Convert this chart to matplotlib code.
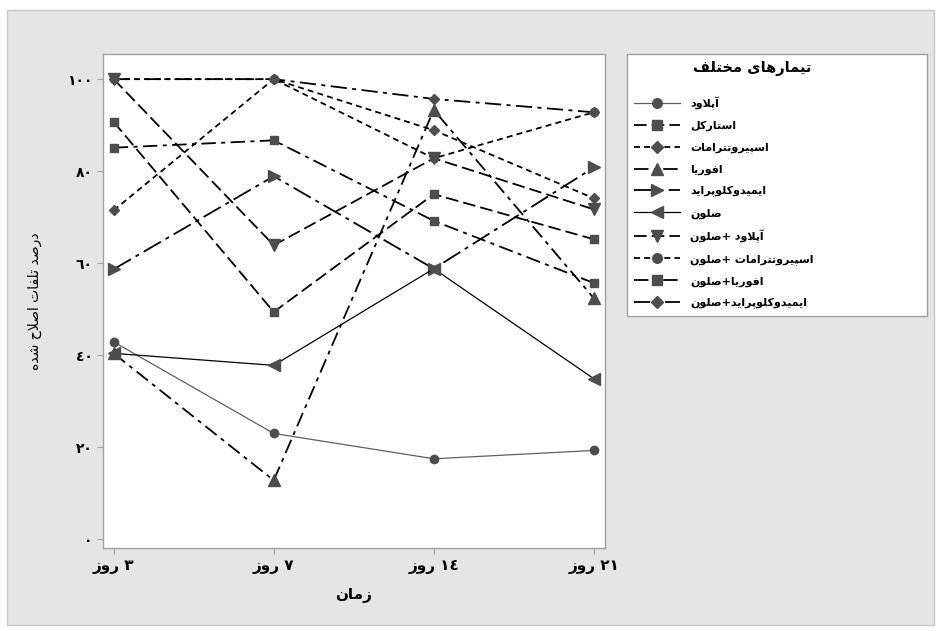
import re
import matplotlib
matplotlib.use("Agg")
import matplotlib.pyplot as plt
from matplotlib.patches import Rectangle

# ---------------- data ----------------
days = ['٣ روز', '٧ روز', '١٤ روز', '٢١ روز']
y_ticks = [0, 20, 40, 60, 80, 100]
y_tick_labels = ['٠', '٢٠', '٤٠', '٦٠', '٨٠', '١٠٠']

aplaud = [42.9, 23.0, 17.5, 19.3]
starkel = [90.7, 49.4, 75.0, 65.2]
spiro = [71.5, 100.0, 88.9, 74.1]
oforia = [40.4, 12.8, 93.3, 52.4]
imida = [58.7, 78.9, 58.8, 80.8]
salon = [40.4, 37.8, 58.8, 34.9]
salon_aplaud = [100.0, 63.9, 82.8, 71.7]
salon_spiro = [100.0, 100.0, 82.8, 92.8]
salon_oforia = [85.1, 86.7, 69.2, 55.7]
salon_imida = [100.0, 100.0, 95.7, 92.8]

names = ['آپلاود', 'استارکل', 'اسپیروتترامات', 'افوریا', 'ایمیدوکلوپراید',
         'صلون', 'صلون+ آپلاود', 'صلون+ اسپیروتترامات', 'صلون+افوریا',
         'صلون+ایمیدوکلوپراید']
series = [aplaud, starkel, spiro, oforia, imida, salon, salon_aplaud,
          salon_spiro, salon_oforia, salon_imida]

legend_title = 'تیمارهای مختلف'
x_label = 'زمان'
y_label = 'درصد تلفات اصلاح شده'

# ---------------- minimal Arabic/Persian shaping ----------------
FORMS = {
    'ا': ('\uFE8D', '\uFE8E'), 'آ': ('\uFE81', '\uFE82'),
    'د': ('\uFEA9', '\uFEAA'), 'ذ': ('\uFEAB', '\uFEAC'),
    'ر': ('\uFEAD', '\uFEAE'), 'ز': ('\uFEAF', '\uFEB0'),
    'ژ': ('\uFB8A', '\uFB8B'), 'و': ('\uFEED', '\uFEEE'),
    'ب': ('\uFE8F', '\uFE90', '\uFE91', '\uFE92'),
    'پ': ('\uFB56', '\uFB57', '\uFB58', '\uFB59'),
    'ت': ('\uFE95', '\uFE96', '\uFE97', '\uFE98'),
    'ح': ('\uFEA1', '\uFEA2', '\uFEA3', '\uFEA4'),
    'خ': ('\uFEA5', '\uFEA6', '\uFEA7', '\uFEA8'),
    'س': ('\uFEB1', '\uFEB2', '\uFEB3', '\uFEB4'),
    'ش': ('\uFEB5', '\uFEB6', '\uFEB7', '\uFEB8'),
    'ص': ('\uFEB9', '\uFEBA', '\uFEBB', '\uFEBC'),
    'ف': ('\uFED1', '\uFED2', '\uFED3', '\uFED4'),
    'ک': ('\uFB8E', '\uFB8F', '\uFB90', '\uFB91'),
    'ل': ('\uFEDD', '\uFEDE', '\uFEDF', '\uFEE0'),
    'م': ('\uFEE1', '\uFEE2', '\uFEE3', '\uFEE4'),
    'ن': ('\uFEE5', '\uFEE6', '\uFEE7', '\uFEE8'),
    'ه': ('\uFEE9', '\uFEEA', '\uFEEB', '\uFEEC'),
    'ی': ('\uFBFC', '\uFBFD', '\uFBFE', '\uFBFF'),
}
LAM_ALEF = {'ا': ('\uFEFB', '\uFEFC'), 'آ': ('\uFEF5', '\uFEF6')}


def _dual(c):
    return c in FORMS and len(FORMS[c]) == 4


def shape(s):
    out = []
    n = len(s)
    i = 0
    while i < n:
        c = s[i]
        if c not in FORMS:
            out.append(c)
            i += 1
            continue
        pc = i > 0 and _dual(s[i - 1])
        if c == 'ل' and i + 1 < n and s[i + 1] in LAM_ALEF:
            out.append(LAM_ALEF[s[i + 1]][1 if pc else 0])
            i += 2
            continue
        nc = _dual(c) and i + 1 < n and s[i + 1] in FORMS
        f = FORMS[c]
        if pc and nc:
            g = f[3]
        elif pc:
            g = f[1]
        elif nc:
            g = f[2]
        else:
            g = f[0]
        out.append(g)
        i += 1
    return ''.join(out)


def rtl(s):
    toks = re.findall(r'[0-9\u0660-\u0669\u06F0-\u06F9]+|.', shape(s))
    return ''.join(reversed(toks))


def legend_text(s):
    # the source software lays the "+"-joined parts out left to right
    parts = re.split(r'(\+\s*)', s)
    return ''.join(p if p.startswith('+') else rtl(p) for p in parts)


# ---------------- styles ----------------
FONT = ['DejaVu Sans']
mcol = '#4d4d4d'
LW = 1.3
styles = [
    dict(marker='o', ms=6, ls='-', lw=0.9, color='#606060'),
    dict(marker='s', ms=6, ls=(0, (7, 2.8)), lw=LW, color='black'),
    dict(marker='D', ms=5.5, ls=(0, (3.3, 2.3)), lw=LW, color='black'),
    dict(marker='^', ms=8, ls=(0, (8, 3, 2.2, 3)), lw=LW, color='black'),
    dict(marker='>', ms=8, ls=(0, (11, 3, 2.2, 3)), lw=LW, color='black'),
    dict(marker='<', ms=8, ls='-', lw=0.9, color='black'),
    dict(marker='v', ms=8, ls=(0, (7, 2.8)), lw=LW, color='black'),
    dict(marker='o', ms=6, ls=(0, (3.3, 2.3)), lw=LW, color='black'),
    dict(marker='s', ms=6, ls=(0, (8, 3, 2.2, 3)), lw=LW, color='black'),
    dict(marker='D', ms=5.5, ls=(0, (9, 3, 2.2, 3)), lw=LW, color='black'),
]

W, H = 939, 631
fig = plt.figure(figsize=(W / 100, H / 100), dpi=100, facecolor='white')
fig.patches.append(Rectangle((7 / W, 1 - 625 / H), (934 - 7) / W, (625 - 10) / H,
                             transform=fig.transFigure, facecolor='#e5e5e5',
                             edgecolor='#c8c8c8', linewidth=1, zorder=-10))

ax = fig.add_axes([102.5 / W, 1 - 548.3 / H, (605 - 102.5) / W, (548.3 - 54.3) / H])
ax.set_facecolor('white')

xpos = list(range(len(days)))
handles = []
for name, vals, st in zip(names, series, styles):
    ln, = ax.plot(xpos, vals, marker=st['marker'], markersize=st['ms'],
                  linestyle=st['ls'], linewidth=st['lw'], color=st['color'],
                  markerfacecolor=mcol, markeredgecolor=mcol,
                  label=legend_text(name), clip_on=False)
    handles.append(ln)

ax.set_xlim(-0.07, 3.07)
ax.set_ylim(-1.96, 105.4)
ax.set_xticks(xpos)
ax.set_xticklabels([rtl(d) for d in days], fontsize=11, fontweight='bold', family=FONT)
ax.set_yticks(y_ticks)
ax.set_yticklabels(y_tick_labels, fontsize=10, fontweight='bold', family=FONT)
ax.tick_params(axis='both', direction='out', length=4, width=0.8, color='#a0a0a0', pad=3)
ax.tick_params(axis='x', pad=4)
for sp in ax.spines.values():
    sp.set_color('#a0a0a0')
    sp.set_linewidth(1)

ax.set_xlabel(rtl(x_label), fontsize=11, fontweight='bold', family=FONT, labelpad=10)
ax.set_ylabel(rtl(y_label), fontsize=10, family=FONT, labelpad=18)

top = 1 - 54.3 / H
leg = fig.legend(handles=handles, labels=[h.get_label() for h in handles],
                 loc='upper left', bbox_to_anchor=(627 / W, top - 0.01, (927 - 627) / W, 0.01),
                 mode='expand', borderaxespad=0, frameon=True, fancybox=False,
                 edgecolor='#a0a0a0', facecolor='white', framealpha=1,
                 prop=dict(family=FONT, size=8, weight='bold'),
                 handlelength=4.2, handletextpad=0.9, labelspacing=1.0,
                 markerscale=1.15,
                 borderpad=0.6, title=' ', title_fontsize=18)
leg.get_frame().set_linewidth(1)

fig.text(693 / W, 1 - 68 / H, rtl(legend_title), fontsize=10.5, fontweight='bold',
         family=FONT, ha='left', va='center', zorder=20)

fig.savefig('out.png', dpi=100, facecolor='white')
